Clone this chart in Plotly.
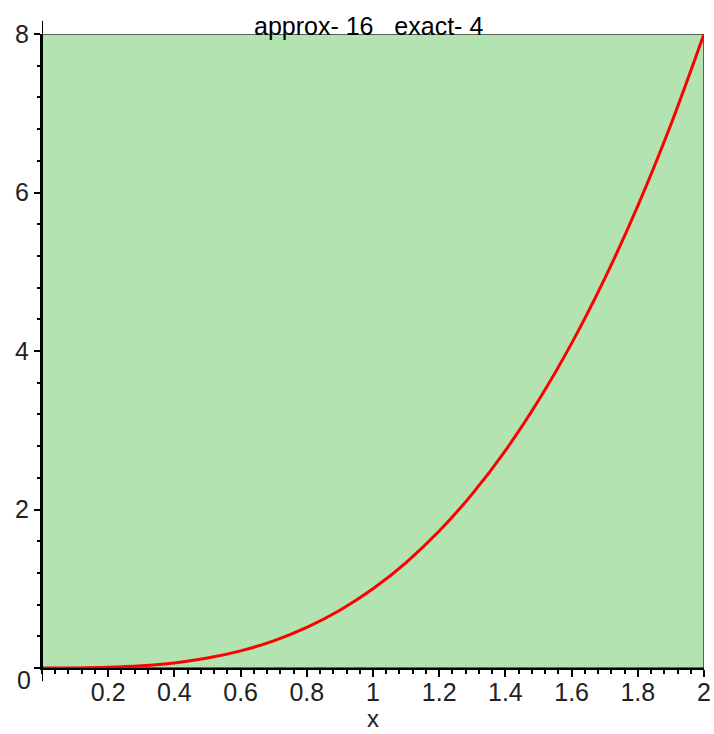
import plotly.graph_objects as go

# curve values (y vs x)
curve_x = [0, 0.1, 0.2, 0.3, 0.4, 0.5, 0.6, 0.7, 0.8, 0.9, 1.0,
           1.1, 1.2, 1.3, 1.4, 1.5, 1.6, 1.7, 1.8, 1.9, 2.0]
curve_y = [0, 0.001, 0.008, 0.027, 0.064, 0.125, 0.216, 0.343, 0.512, 0.729, 1.0,
           1.331, 1.728, 2.197, 2.744, 3.375, 4.096, 4.913, 5.832, 6.859, 8.0]

# approximation rectangle (width 2, height 8)
rect_x = [0, 2, 2, 0, 0]
rect_y = [0, 0, 8, 8, 0]

x_ticks = [0.2, 0.4, 0.6, 0.8, 1, 1.2, 1.4, 1.6, 1.8, 2]
x_labels = ["0.2", "0.4", "0.6", "0.8", "1", "1.2", "1.4", "1.6", "1.8", "2"]
y_ticks = [0, 2, 4, 6, 8]
y_labels = ["", "2", "4", "6", "8"]

title_text = "approx- 16   exact- 4"

FONT = "Liberation Sans, Arial, sans-serif"

fig = go.Figure()
fig.add_trace(go.Scatter(x=rect_x, y=rect_y, mode="lines", fill="toself",
                         fillcolor="rgb(179,227,176)",
                         line=dict(color="#3a3a3a", width=1.5),
                         hoverinfo="skip", showlegend=False))
fig.add_trace(go.Scatter(x=curve_x, y=curve_y, mode="lines",
                         line=dict(color="#ff0000", width=3, shape="spline"),
                         showlegend=False))

fig.update_layout(
    width=714, height=734,
    margin=dict(l=42, r=10, t=34, b=66, pad=0, autoexpand=False),
    plot_bgcolor="white", paper_bgcolor="white",
    font=dict(family=FONT, size=25, color="black"),
    xaxis=dict(range=[0, 2], showgrid=False, zeroline=False, automargin=False,
               showline=True, linecolor="black", linewidth=2,
               tickvals=x_ticks, ticktext=x_labels,
               ticks="outside", ticklen=7, tickwidth=2, tickcolor="black",
               ticklabelstandoff=-6,
               tickfont=dict(family=FONT, size=25, color="#222"),
               minor=dict(dtick=0.04, tick0=0, ticks="outside", ticklen=4,
                          tickwidth=2, tickcolor="black")),
    yaxis=dict(range=[0, 8], showgrid=False, zeroline=False, automargin=False,
               showline=True, linecolor="black", linewidth=2,
               tickvals=y_ticks, ticktext=y_labels,
               ticks="outside", ticklen=6, tickwidth=2, tickcolor="black",
               tickfont=dict(family=FONT, size=25, color="#222"),
               minor=dict(dtick=0.4, tick0=0, ticks="outside", ticklen=3,
                          tickwidth=2, tickcolor="black")),
    shapes=[
        dict(type="line", xref="x", yref="paper", x0=0, x1=0, y0=-0.021, y1=1.021,
             line=dict(color="black", width=2)),
    ],
    annotations=[
        dict(text=title_text, xref="paper", yref="paper", x=0.493, y=1.012,
             xanchor="center", yanchor="middle", showarrow=False,
             font=dict(family=FONT, size=25, color="black")),
        dict(text="x", xref="paper", yref="paper", x=0.5, y=-0.08,
             xanchor="center", yanchor="middle", showarrow=False,
             font=dict(family=FONT, size=24, color="#222")),
        dict(text="0", xref="paper", yref="y", x=0, y=0, xshift=-18, yshift=-12,
             xanchor="center", yanchor="middle", showarrow=False,
             font=dict(family=FONT, size=25, color="#222")),
    ],
)

fig.write_html(
    "out.html",
    config={"displayModeBar": False},
    post_script="document.body.style.margin='0';document.body.style.overflow='hidden';",
)
